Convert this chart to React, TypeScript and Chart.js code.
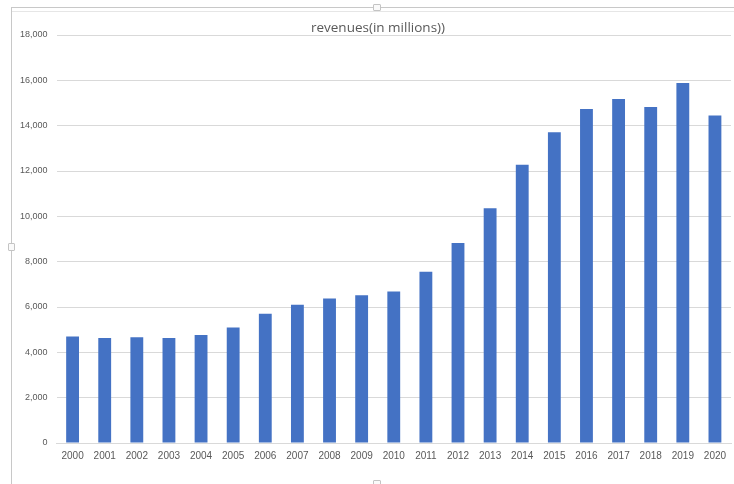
import React, { useEffect, useRef } from "react";
import { Chart, registerables } from "chart.js";

Chart.register(...registerables);

// Yearly revenue figures, in millions
const years: string[] = [
  "2000", "2001", "2002", "2003", "2004", "2005", "2006", "2007", "2008", "2009", "2010",
  "2011", "2012", "2013", "2014", "2015", "2016", "2017", "2018", "2019", "2020",
];
const revenues: number[] = [
  4700, 4630, 4660, 4630, 4760, 5100, 5700, 6100, 6380, 6520, 6680,
  7550, 8820, 10360, 12280, 13710, 14740, 15180, 14820, 15880, 14450,
];
const chartTitle = "revenues(in millions))";
const yMax = 18000;
const yStep = 2000;

const BAR_BLUE = "#4472C4";
const TEXT_GREY = "#595959";
const GRID_GREY = "#d9d9d9";

export default function App() {
  const canvasRef = useRef<HTMLCanvasElement | null>(null);

  useEffect(() => {
    const canvas = canvasRef.current;
    if (!canvas) return;
    const chart = new Chart(canvas, {
      type: "bar",
      data: {
        labels: years,
        datasets: [
          {
            label: "revenues",
            data: revenues,
            backgroundColor: BAR_BLUE,
            borderWidth: 0,
            barPercentage: 0.8,
            categoryPercentage: 0.5,
          },
        ],
      },
      options: {
        animation: false,
        responsive: false,
        devicePixelRatio: 1,
        layout: { padding: { left: 11, right: 3, top: 35, bottom: 15 } },
        plugins: {
          legend: { display: false },
          tooltip: { enabled: false },
          title: { display: false },
        },
        scales: {
          x: {
            grid: { display: false, drawTicks: false },
            border: { display: true, color: GRID_GREY, width: 1 },
            ticks: {
              color: TEXT_GREY,
              padding: 7,
              maxRotation: 0,
              autoSkip: false,
              font: { family: "'Liberation Sans', sans-serif", size: 10 },
            },
          },
          y: {
            min: 0,
            max: yMax,
            grid: { color: GRID_GREY, drawTicks: false, lineWidth: 1 },
            border: { display: false },
            ticks: {
              stepSize: yStep,
              color: TEXT_GREY,
              padding: 9,
              font: { family: "'Liberation Sans', sans-serif", size: 9 },
              callback: (v) => Number(v).toLocaleString("en-US"),
            },
          },
        },
      },
    });
    return () => chart.destroy();
  }, []);

  const handle: React.CSSProperties = {
    position: "absolute",
    width: 6,
    height: 5,
    border: "1px solid #c4c4c4",
    borderRadius: 1,
    background: "#fafafa",
  };

  return (
    <div style={{ position: "fixed", left: 0, top: 0, width: 734, height: 484, background: "#fff", overflow: "hidden" }}>
      {/* selection frame around the chart object */}
      <div style={{ position: "absolute", left: 11, top: 7, right: 0, height: 1, background: "#c8c8c8" }} />
      <div style={{ position: "absolute", left: 11, top: 11, right: 0, height: 1, background: "#e6e6e6" }} />
      <div style={{ position: "absolute", left: 11, top: 7, width: 1, bottom: 0, background: "#c8c8c8" }} />
      <canvas ref={canvasRef} width={734} height={484} style={{ position: "absolute", left: 0, top: 0 }} />
      <div
        style={{
          position: "absolute",
          left: 278,
          width: 200,
          top: 19,
          height: 16,
          lineHeight: "16px",
          textAlign: "center",
          fontFamily: "'Open Sans', sans-serif",
          fontSize: 13.5,
          color: TEXT_GREY,
          whiteSpace: "nowrap",
        }}
      >
        {chartTitle}
      </div>
      <div style={{ ...handle, left: 373, top: 4 }} />
      <div style={{ ...handle, left: 8, top: 243, width: 5, height: 6 }} />
      <div style={{ ...handle, left: 373, top: 480 }} />
    </div>
  );
}
